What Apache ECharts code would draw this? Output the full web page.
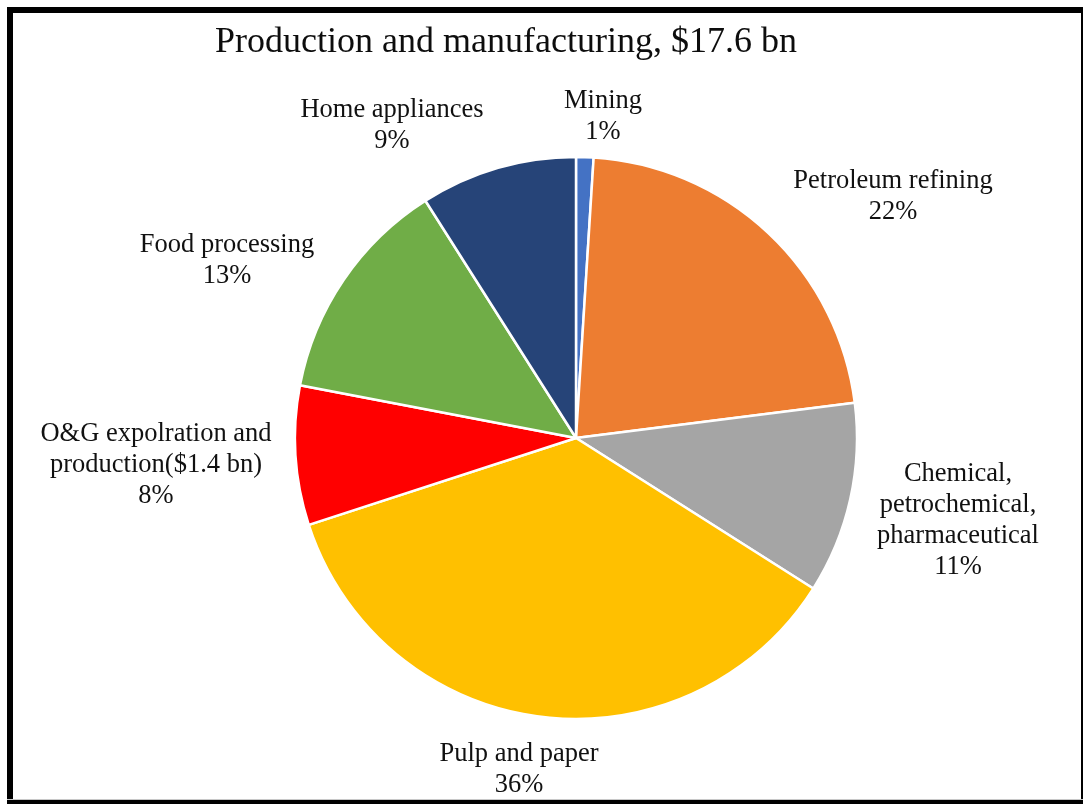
<!DOCTYPE html>
<html>
<head>
<meta charset="utf-8">
<script src="https://cdn.jsdelivr.net/npm/echarts@6/dist/echarts.min.js"></script>
<style>
  html, body { margin: 0; padding: 0; background: #ffffff; }
  #chart { width: 1083px; height: 804px; }
</style>
</head>
<body>
<div id="chart"></div>
<script>
// Sector names (line breaks as they appear in the labels)
const categories = [
  'Mining',
  'Petroleum refining',
  'Chemical,\npetrochemical,\npharmaceutical',
  'Pulp and paper',
  'O&G expolration and\nproduction($1.4 bn)',
  'Food processing',
  'Home appliances'
];
// Share of spending, percent
const shares = [1, 22, 11, 36, 8, 13, 9];
const sliceColors = ['#4472C4', '#ED7D31', '#A5A5A5', '#FFC000', '#FF0000', '#70AD47', '#264478'];

// Label anchor points (centre of each text block)
const labelAnchors = [
  [603, 117], [893, 197], [958, 521], [519, 770], [156, 465], [227, 261], [392, 126]
];

const chart = echarts.init(document.getElementById('chart'), null, { renderer: 'canvas' });

const font = '"Liberation Serif", "Times New Roman", serif';

chart.setOption({
  backgroundColor: '#ffffff',
  animation: false,
  title: {
    text: 'Production and manufacturing, $17.6 bn',
    left: 501,
    top: 20,
    textAlign: 'center',
    textStyle: { fontFamily: font, fontSize: 36, fontWeight: 'normal', color: '#0d0d0d' }
  },
  graphic: [
    { type: 'rect', shape: { x: 7, y: 7, width: 6, height: 797 }, style: { fill: '#000' } },
    { type: 'rect', shape: { x: 7, y: 7, width: 1076, height: 6 }, style: { fill: '#000' } },
    { type: 'rect', shape: { x: 1081, y: 7, width: 2, height: 797 }, style: { fill: '#000' } },
    { type: 'rect', shape: { x: 7, y: 799, width: 1076, height: 1 }, style: { fill: '#c8c8c8' } },
    { type: 'rect', shape: { x: 7, y: 800, width: 1076, height: 4 }, style: { fill: '#000' } }
  ],
  series: [{
    type: 'pie',
    center: [576, 438],
    radius: 281,
    startAngle: 90,
    clockwise: true,
    itemStyle: { borderColor: '#ffffff', borderWidth: 2.5 },
    label: {
      show: true,
      position: 'outside',
      formatter: p => p.name + '\n' + p.value + '%',
      fontFamily: font,
      fontSize: 26.5,
      lineHeight: 31,
      color: '#111',
      align: 'center'
    },
    labelLine: { show: false },
    labelLayout: p => ({
      x: labelAnchors[p.dataIndex][0],
      y: labelAnchors[p.dataIndex][1],
      align: 'center',
      verticalAlign: 'middle'
    }),
    emphasis: { disabled: true },
    data: categories.map((name, i) => ({
      name,
      value: shares[i],
      itemStyle: { color: sliceColors[i] }
    }))
  }]
});
</script>
</body>
</html>
